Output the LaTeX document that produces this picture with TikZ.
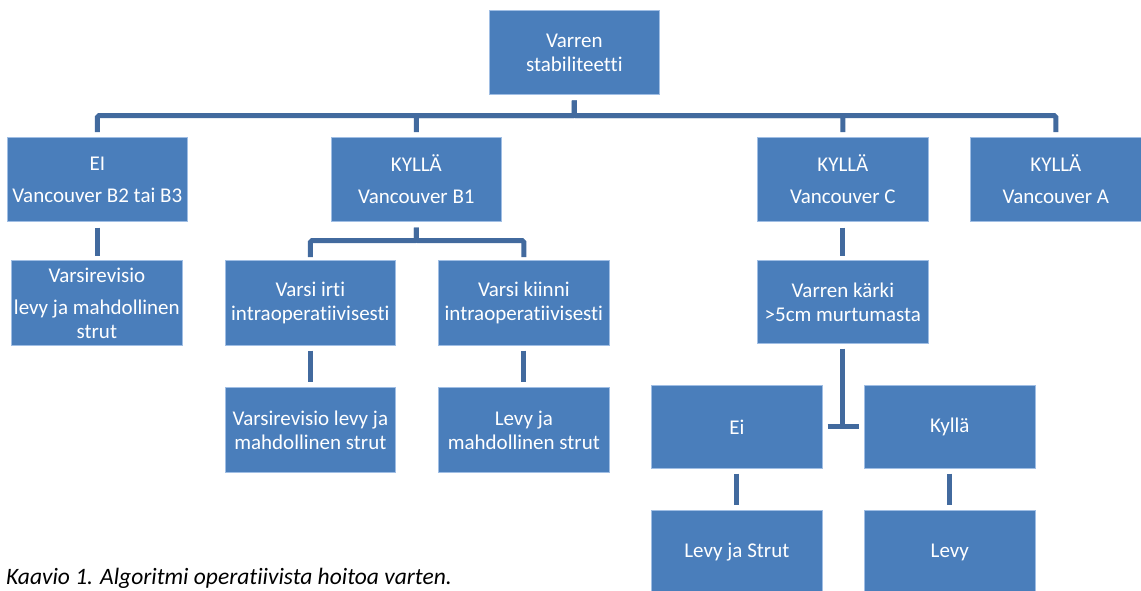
\documentclass[tikz,border=0pt]{standalone}
\usepackage{fontspec}
\setmainfont{Carlito}[Ligatures=NoCommon]
\usetikzlibrary{calc}
\definecolor{boxblue}{RGB}{74,126,187}
\definecolor{boxedge}{RGB}{160,190,228}
\definecolor{connblue}{RGB}{66,106,158}
\begin{document}
\begin{tikzpicture}[x=1pt,y=-1pt,
  box/.style={draw=boxedge, line width=0.7pt, fill=boxblue, text=white,
    minimum height=84pt, inner sep=0pt, align=center, anchor=north west,
    font=\fontsize{21}{24}\selectfont},
  conn/.style={draw=connblue, line width=5pt, rounded corners=1.5pt},
  caption/.style={anchor=base west, inner sep=0pt, font=\fontsize{23.5}{27}\selectfont\itshape}
]
\useasboundingbox (0,0) rectangle (1141,590);
\clip (0,0) rectangle (1141,590);
% boxes
\node[box, minimum width=170pt] (top) at (489,10) {Varren\\ stabiliteetti};
\node[box, minimum width=180pt] (b1) at (7,137) {EI\\[8pt]Vancouver B2 tai B3};
\node[box, minimum width=170pt] (b2) at (331,137) {KYLLÄ\\[8pt]Vancouver B1};
\node[box, minimum width=171pt] (b3) at (757,137) {KYLLÄ\\[8pt]Vancouver C};
\node[box, minimum width=171pt] (b4) at (970,137) {KYLLÄ\\[8pt]Vancouver A};
\node[box, minimum width=171pt, minimum height=85pt] (c1) at (11,260) {Varsirevisio\\[8pt]levy ja mahdollinen\\ strut};
\node[box, minimum width=170pt, minimum height=85pt] (c2) at (225,260) {Varsi irti\\ intraoperatiivisesti};
\node[box, minimum width=171pt, minimum height=85pt] (c3) at (438,260) {Varsi kiinni\\ intraoperatiivisesti};
\node[box, minimum width=171pt, minimum height=83pt] (c4) at (757,260) {Varren kärki\\ >5cm murtumasta};
\node[box, minimum width=170pt, minimum height=85pt] (d2) at (225,387) {Varsirevisio levy ja\\ mahdollinen strut};
\node[box, minimum width=171pt, minimum height=85pt] (d3) at (438,387) {Levy ja\\ mahdollinen strut};
\node[box, minimum width=171pt, minimum height=83pt] (e1) at (651,385) {Ei};
\node[box, minimum width=171pt, minimum height=83pt] (e2) at (864,385) {Kyllä};
\node[box, minimum width=171pt, minimum height=84pt] (f1) at (651,510) {Levy ja Strut};
\node[box, minimum width=171pt, minimum height=84pt] (f2) at (864,510) {Levy};
% caption
\node[caption] (cap) at (6,584) {Kaavio 1. Algoritmi operatiivista hoitoa varten.};
% connectors
\foreach \t in {b1,b2,b3,b4}{
  \draw[conn, shorten <=6pt, shorten >=5pt] (top.south) -- ++(0,21) -| (\t.north);
}
\foreach \t in {c2,c3}{
  \draw[conn, shorten <=6pt, shorten >=3pt] (b2.south) -- ++(0,19) -| (\t.north);
}
\draw[conn, shorten <=6pt, shorten >=4pt] (b1.south) -- (b1.south |- c1.north);
\draw[conn, shorten <=6pt, shorten >=4pt] (b3.south) -- (c4.north);
\draw[conn, shorten <=5pt, shorten >=5pt] (c2.south) -- (d2.north);
\draw[conn, shorten <=5pt, shorten >=5pt] (c3.south) -- (d3.north);
\draw[conn, shorten <=5pt, shorten >=-2.5pt] (c4.south) -- (c4.south |- e1.east);
\draw[conn, shorten <=5pt, shorten >=5pt] (e1.east) -- (e2.west);
\draw[conn, shorten <=5pt, shorten >=5pt] (e1.south) -- (f1.north);
\draw[conn, shorten <=5pt, shorten >=5pt] (e2.south) -- (f2.north);
\end{tikzpicture}
\end{document}
